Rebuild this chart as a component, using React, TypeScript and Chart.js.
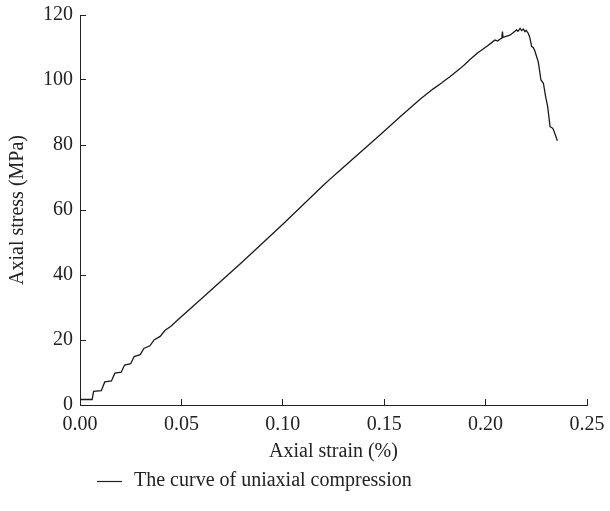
import React, { useEffect, useRef } from "react";
import { Chart, registerables } from "chart.js";

Chart.register(...registerables);

const strain: number[] = [
  0.0, 0.006, 0.0067, 0.0105, 0.0122, 0.0155, 0.0172, 0.0203, 0.022, 0.025,
  0.0267, 0.0297, 0.0315, 0.0345, 0.0365, 0.0395, 0.042, 0.045, 0.048, 0.06,
  0.08, 0.1, 0.12, 0.1233, 0.1274, 0.1479, 0.158, 0.1677, 0.174, 0.1783,
  0.18, 0.1824, 0.185, 0.1874, 0.19, 0.1923, 0.196, 0.2005, 0.203, 0.2046,
  0.206, 0.2071, 0.208, 0.2083, 0.2086, 0.21, 0.212, 0.214, 0.2153, 0.216,
  0.217, 0.2178, 0.2186, 0.2194, 0.22, 0.221, 0.2215, 0.2219, 0.2227, 0.2235,
  0.2243, 0.226, 0.2273, 0.2285, 0.2296, 0.2306, 0.2318, 0.2326, 0.2334, 0.2354,
];

const stress: number[] = [
  1.7, 1.7, 4.2, 4.4, 7.1, 7.4, 9.8, 10.1, 12.3, 12.7,
  14.9, 15.5, 17.4, 18.2, 20.0, 21.1, 23.0, 24.3, 26.1, 32.8,
  44.0, 55.6, 67.6, 69.5, 71.8, 83.1, 88.8, 94.1, 97.2, 99.1,
  99.9, 101.0, 102.3, 103.5, 104.9, 106.3, 108.3, 110.3, 111.5, 112.3,
  112.0, 112.6, 112.8, 114.9, 113.1, 113.4, 113.8, 114.8, 115.4, 115.0,
  115.9, 115.2, 115.7, 114.9, 115.3, 114.4, 113.6, 112.8, 110.3, 110.0,
  108.9, 105.5, 100.0, 99.0, 94.9, 91.8, 85.6, 85.4, 84.8, 81.3,
];

const seriesLabel = "The curve of uniaxial compression";
const xTitle = "Axial strain (%)";
const yTitle = "Axial stress (MPa)";

const FONT = "'Liberation Serif', 'DejaVu Serif', serif";
const FS = 20;

const legendPlugin = {
  id: "customLegend",
  afterDraw(chart: any) {
    const ctx = chart.ctx;
    const ds = chart.data.datasets[0];
    ctx.save();
    ctx.strokeStyle = "#222";
    ctx.lineWidth = 1.2;
    ctx.beginPath();
    ctx.moveTo(97, 481.5);
    ctx.lineTo(122, 481.5);
    ctx.stroke();
    ctx.fillStyle = "#222";
    ctx.font = `${FS}px ${FONT}`;
    ctx.textAlign = "left";
    ctx.textBaseline = "middle";
    ctx.fillText(ds.label, 134, 481);
    ctx.restore();
  },
};

export default function App() {
  const ref = useRef<HTMLCanvasElement | null>(null);
  useEffect(() => {
    if (!ref.current) return;
    const data = strain.map((x, i) => ({ x, y: stress[i] }));
    const chart = new Chart(ref.current, {
      type: "line",
      data: {
        datasets: [
          {
            label: seriesLabel,
            data,
            borderColor: "#1a1a1a",
            borderWidth: 1.3,
            pointRadius: 0,
            tension: 0,
            fill: false,
          },
        ],
      },
      options: {
        animation: false,
        responsive: true,
        maintainAspectRatio: false,
        layout: { padding: { left: 0, right: 23, top: 15, bottom: 46 } },
        plugins: {
          legend: { display: false },
          tooltip: { enabled: false },
        },
        scales: {
          x: {
            type: "linear",
            min: 0,
            max: 0.25,
            afterFit(scale: any) {
              scale.height = 60;
              scale.paddingLeft = 0;
              scale.paddingRight = 0;
            },
            border: { display: true, color: "#222", width: 1 },
            grid: {
              drawOnChartArea: false,
              drawTicks: true,
              tickLength: -6,
              color: "#222",
            },
            ticks: {
              stepSize: 0.05,
              padding: 14,
              color: "#222",
              font: { family: FONT, size: FS },
              callback: (v: any) => Number(v).toFixed(2),
              maxRotation: 0,
            },
            title: {
              display: true,
              text: xTitle,
              color: "#222",
              font: { family: FONT, size: FS },
              padding: { top: 0, bottom: 1 },
            },
          },
          y: {
            type: "linear",
            min: 0,
            max: 120,
            afterFit(scale: any) {
              scale.width = 80;
              scale.paddingTop = 0;
              scale.paddingBottom = 0;
            },
            border: { display: true, color: "#222", width: 1 },
            grid: {
              drawOnChartArea: false,
              drawTicks: true,
              tickLength: -6,
              color: "#222",
            },
            ticks: {
              stepSize: 20,
              padding: 13,
              color: "#222",
              font: { family: FONT, size: FS },
            },
            title: {
              display: true,
              text: yTitle,
              color: "#222",
              font: { family: FONT, size: FS },
              padding: { top: 6, bottom: 6 },
            },
          },
        },
      },
      plugins: [legendPlugin],
    });
    return () => chart.destroy();
  }, []);
  return (
    <div style={{ position: "absolute", left: 0, top: 0, width: 610, height: 511 }}>
      <canvas ref={ref} />
    </div>
  );
}
